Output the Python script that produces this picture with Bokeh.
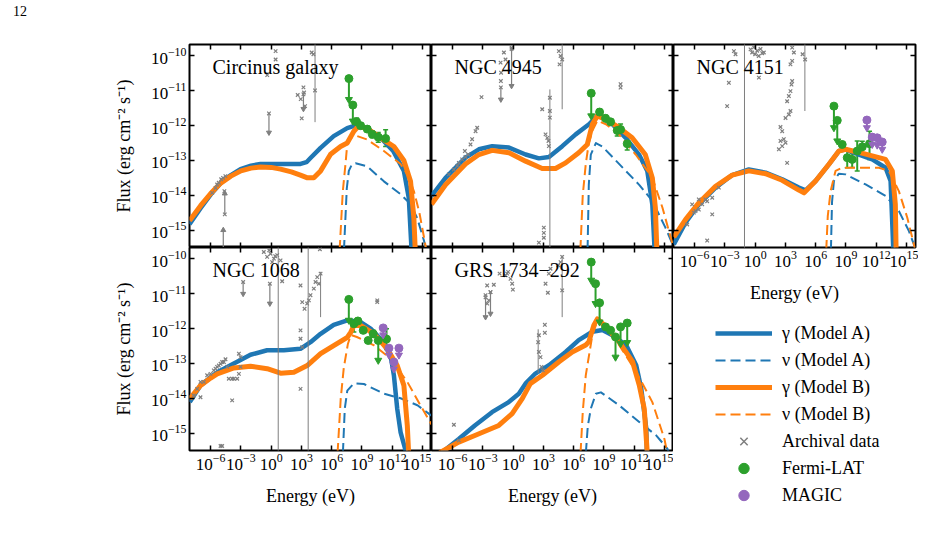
from bokeh.embed import file_html
from bokeh.layouts import column, row
from bokeh.models import (ColumnDataSource, CustomJSTickFormatter, Div, FixedTicker, Label, Legend,
                          LegendItem, LogAxis, LogTickFormatter, Range1d, TeeHead, Whisker)
from bokeh.plotting import figure
from bokeh.resources import INLINE

BLUE = "#1f77b4"
ORANGE = "#ff7f0e"
GREEN = "#2ca02c"
PURPLE = "#9467bd"
GREY = "#7f7f7f"
SERIF = "Liberation Serif"

# shared axis limits, in log10 units
LOG_E_LIM = (-8.1, 15.9)
LOG_F_LIM = (-15.5, -9.67)
E_TICKS = [1e-6, 1e-3, 1e0, 1e3, 1e6, 1e9, 1e12, 1e15]
F_TICKS = [1e-15, 1e-14, 1e-13, 1e-12, 1e-11, 1e-10]
FERMI_HALF_BIN = 0.22  # half width of a LAT energy bin, decades
FLUX_LABEL = "Flux (erg cm\u207b\u00b2 s\u207b\u00b9)"
ENERGY_LABEL = "Energy (eV)"

# All series are (log10 E [eV], log10 flux [erg cm^-2 s^-1]).
# Limits are (log10 E, log10 F, log10 F at arrow tip); bars are (log10 E, low, high).
# Detections are (log10 E, log10 F, low, high).

# ---------------- Circinus galaxy ----------------
circ_gamma_a = [(-8.1, -14.83), (-7.0, -14.37), (-6.0, -13.98), (-5.0, -13.65), (-4.0, -13.42),
                (-3.04, -13.25), (-2.0, -13.15), (-1.06, -13.1), (0.93, -13.1), (2.91, -13.1),
                (3.5, -13.05), (3.9, -12.93), (4.9, -12.64), (6.2, -12.3), (7.54, -12.07),
                (8.54, -11.98), (9.6, -12.1), (10.85, -12.35), (12.1, -12.73), (13.16, -13.3),
                (13.65, -14.08), (14.0, -16.0)]
circ_nu_a = [(7.15, -16.0), (7.5, -13.8), (7.7, -13.3), (8.0, -13.12), (8.37, -13.08), (9.53, -13.17),
             (11.18, -13.6), (12.83, -13.97), (13.82, -14.25), (14.48, -14.65), (15.15, -15.3),
             (15.4, -15.6)]
circ_gamma_b = [(-8.1, -14.73), (-7.0, -14.3), (-6.0, -13.95), (-5.0, -13.65), (-4.0, -13.45),
                (-3.0, -13.3), (-2.0, -13.22), (-1.06, -13.19), (0.0, -13.2), (0.93, -13.25),
                (2.0, -13.33), (2.9, -13.42), (3.6, -13.5), (4.23, -13.5), (4.9, -13.3),
                (5.89, -12.82), (6.88, -12.6), (7.54, -12.5), (8.2, -12.16), (8.7, -12.0),
                (9.6, -12.1), (10.85, -12.35), (12.17, -12.6), (13.16, -13.0), (13.82, -13.6),
                (14.15, -14.65), (14.35, -16.0)]
circ_nu_b = [(6.71, -16.0), (7.1, -13.9), (7.37, -13.1), (7.54, -12.55), (7.9, -12.35), (8.54, -12.3),
             (9.53, -12.4), (11.18, -12.73), (12.83, -13.1), (13.6, -13.45), (14.15, -13.88),
             (14.7, -14.5), (15.15, -15.2), (15.4, -15.6)]
circ_arch = [(-5.85, -13.93), (-5.52, -13.79), (-5.36, -13.69), (-5.2, -13.64), (-4.96, -13.54),
             (-4.77, -13.5), (-4.54, -13.45), (-4.64, -13.88), (-0.39, -10.55), (0.44, -9.86),
             (0.44, -10.1), (2.63, -11.12), (2.93, -11.24), (3.2, -10.9), (3.26, -11.05),
             (3.36, -11.44), (3.03, -11.79), (4.02, -9.9), (4.19, -9.95), (4.35, -10.99)]
circ_arch_lim = [(-4.6, -14.55, -13.95), (-4.75, -15.7, -15.0), (-0.22, -11.65, -12.2),
                 (3.2, -11.1, -11.52)]
circ_arch_bar = [(4.35, -11.9, -9.5)]
circ_fermi = [(8.47, -11.89, -12.0, -11.78), (8.87, -12.0, -12.08, -11.92), (9.53, -12.1, -12.18, -12.02),
              (10.03, -12.25, -12.35, -12.15), (10.62, -12.33, -12.48, -12.2),
              (11.35, -12.37, -12.6, -12.12)]
circ_fermi_ul = [(7.71, -10.65, -11.25), (8.1, -11.41, -11.87)]

# ---------------- NGC 4945 ----------------
n4945_gamma_a = [(-8.1, -14.02), (-6.71, -13.5), (-4.73, -12.92), (-3.4, -12.68), (-2.08, -12.59),
                 (-0.42, -12.63), (1.23, -12.83), (2.55, -12.94), (3.55, -12.9), (4.87, -12.59),
                 (6.2, -12.25), (7.52, -11.96), (8.4, -11.7), (9.84, -11.96), (11.16, -12.35),
                 (12.48, -12.83), (13.3, -13.3), (13.8, -14.26), (14.1, -16.0)]
n4945_nu_a = [(7.35, -16.0), (7.5, -13.7), (7.7, -12.83), (8.2, -12.5), (8.85, -12.6), (10.5, -13.1),
              (12.5, -13.7), (13.8, -14.16), (15.1, -14.93), (15.8, -15.4)]
n4945_gamma_b = [(-8.1, -14.26), (-6.71, -13.7), (-4.73, -13.1), (-3.4, -12.83), (-2.08, -12.71),
                 (-0.42, -12.78), (1.23, -13.02), (2.88, -13.23), (4.2, -13.23), (5.2, -13.07),
                 (6.5, -12.78), (7.35, -12.54), (7.85, -11.96), (8.35, -11.72), (9.2, -11.82),
                 (10.5, -12.06), (11.8, -12.35), (13.1, -12.83), (13.8, -13.5), (14.1, -14.35),
                 (14.3, -16.0)]
n4945_nu_b = [(6.6, -16.0), (6.9, -14.0), (7.2, -13.1), (7.5, -12.5), (7.85, -12.15), (8.35, -11.86),
              (9.2, -11.96), (10.5, -12.25), (12.15, -12.83), (13.8, -13.5), (14.8, -14.35),
              (15.8, -15.4)]
n4945_arch = [(-6.38, -13.4), (-5.88, -13.26), (-5.55, -13.16), (-5.39, -13.07), (-5.06, -12.97),
              (-4.79, -12.73), (-4.73, -12.9), (-4.46, -12.83), (-4.23, -12.54), (-4.07, -12.39),
              (-3.73, -12.16), (-3.57, -12.06), (-3.14, -11.18), (-1.25, -10.19), (-1.2, -10.48),
              (-1.22, -10.72), (-0.92, -9.9), (-0.76, -10.1), (-0.16, -9.76), (2.88, -11.53),
              (3.64, -11.2), (3.64, -11.58), (3.64, -11.77), (3.21, -12.25), (3.38, -12.35),
              (3.5, -12.44), (3.54, -12.59), (3.04, -14.93), (3.04, -15.08), (3.04, -15.22),
              (2.55, -15.36), (4.53, -9.86), (4.7, -10.0), (4.86, -10.1), (4.6, -10.24),
              (10.65, -10.81), (10.65, -10.91)]
n4945_arch_lim = [(-1.22, -10.9, -11.25), (-0.16, -9.8, -10.86)]
n4945_arch_bar = [(3.64, -16.0, -10.96), (4.86, -11.53, -9.6)]
n4945_fermi = [(8.57, -11.61, -11.7, -11.52), (9.16, -11.79, -11.88, -11.7), (9.66, -11.89, -11.98, -11.8),
               (10.32, -12.14, -12.3, -12.0), (10.65, -12.11, -12.25, -11.95),
               (11.31, -12.52, -12.7, -12.35)]
n4945_fermi_ul = [(7.74, -11.07, -11.72)]

# ---------------- NGC 4151 ----------------
n4151_gamma_a = [(-8.07, -15.41), (-6.91, -14.79), (-5.59, -14.26), (-3.93, -13.78), (-2.28, -13.42),
                 (-0.63, -13.26), (1.03, -13.35), (2.68, -13.54), (4.33, -13.78), (5.0, -13.86),
                 (5.99, -13.59), (7.31, -13.11), (8.3, -12.73), (8.96, -12.68), (10.29, -12.83),
                 (11.61, -12.97), (12.93, -13.21), (13.43, -13.59), (13.76, -16.0)]
n4151_nu_a = [(7.48, -16.0), (7.62, -14.2), (7.81, -13.59), (8.3, -13.38), (8.96, -13.4),
              (10.95, -13.69), (12.93, -14.02), (14.25, -14.45), (15.25, -15.03), (15.74, -15.41),
              (15.9, -15.6)]
n4151_gamma_b = [(-8.07, -15.2), (-6.91, -14.7), (-5.59, -14.22), (-3.93, -13.74), (-2.28, -13.42),
                 (-0.63, -13.3), (1.03, -13.38), (2.68, -13.57), (4.33, -13.85), (4.85, -13.93),
                 (5.99, -13.59), (7.31, -13.11), (8.3, -12.73), (8.96, -12.68), (10.29, -12.77),
                 (11.61, -12.87), (12.93, -12.97), (13.6, -13.3), (13.9, -14.26), (14.0, -16.0)]
n4151_nu_b = [(6.98, -16.0), (7.2, -14.6), (7.48, -13.88), (7.97, -13.3), (8.63, -13.21),
              (10.29, -13.21), (12.27, -13.21), (13.26, -13.3), (14.25, -13.88), (15.08, -14.64),
              (15.74, -15.41), (15.9, -15.6)]
n4151_arch = [(-6.74, -14.84), (-6.25, -14.26), (-6.08, -14.5), (-5.92, -14.45), (-5.59, -14.41),
              (-5.59, -14.12), (-5.25, -14.26), (-4.93, -14.12), (-4.76, -14.17), (-4.26, -14.07),
              (-3.6, -13.78), (-4.26, -14.55), (-4.76, -15.3), (-2.78, -11.44), (-2.61, -10.77),
              (-2.11, -9.86), (-1.95, -9.95), (-0.46, -9.81), (-0.3, -9.9), (-0.13, -9.75),
              (0.0, -9.95), (0.2, -9.85), (0.35, -10.0), (0.53, -9.8), (0.7, -9.92), (0.86, -9.9),
              (0.37, -10.62), (2.51, -12.04), (2.68, -12.16), (2.84, -12.39), (2.51, -12.44),
              (3.01, -12.49), (2.35, -12.68), (2.68, -12.59), (3.17, -13.07), (3.01, -11.78),
              (3.34, -11.68), (3.5, -11.58), (3.17, -11.3), (3.34, -11.15), (3.5, -11.01),
              (3.6, -10.82), (3.67, -10.72), (3.5, -10.24), (3.67, -10.14), (3.84, -9.9),
              (3.67, -9.76), (4.7, -9.95), (4.95, -10.1)]
n4151_arch_lim = []
n4151_arch_bar = [(-1.06, -16.0, -9.5), (4.93, -11.58, -9.5)]
n4151_fermi = [(8.63, -12.54, -12.6, -12.48), (9.13, -12.92, -13.21, -12.73), (9.62, -12.97, -13.2, -12.8),
               (10.12, -12.73, -13.3, -12.44), (10.62, -12.61, -12.85, -12.45),
               (11.34, -12.52, -12.97, -12.16)]
n4151_fermi_ul = [(7.81, -11.44, -12.06), (8.14, -11.85, -12.44)]
n4151_magic_ul = [(11.08, -11.84, -12.06), (11.61, -12.33, -12.54), (12.1, -12.35, -12.56),
                  (12.6, -12.47, -12.68)]

# ---------------- NGC 1068 ----------------
n1068_gamma_a = [(-8.07, -14.11), (-7.0, -13.63), (-6.0, -13.4), (-5.35, -13.25), (-3.7, -13.0),
                 (-2.05, -12.75), (-0.4, -12.62), (1.26, -12.62), (2.9, -12.58), (3.9, -12.39),
                 (4.9, -12.15), (6.2, -11.89), (7.55, -11.76), (8.87, -11.81), (9.86, -12.0),
                 (10.85, -12.29), (11.84, -12.77), (12.17, -13.34), (12.5, -14.3), (12.83, -14.97),
                 (13.33, -15.5), (13.5, -16.0)]
n1068_nu_a = [(7.05, -16.0), (7.3, -14.3), (7.55, -13.78), (8.2, -13.57), (9.2, -13.59),
              (11.2, -13.87), (12.83, -14.0), (14.5, -14.2), (15.9, -14.5)]
n1068_gamma_b = [(-8.07, -14.01), (-7.0, -13.63), (-6.0, -13.42), (-5.35, -13.3), (-3.7, -13.13),
                 (-2.05, -13.08), (-0.4, -13.15), (0.93, -13.28), (2.25, -13.25), (3.57, -13.06),
                 (4.9, -12.72), (6.2, -12.49), (7.55, -12.25), (7.9, -12.1), (8.2, -11.91),
                 (8.87, -11.91), (10.2, -12.15), (11.5, -12.58), (12.5, -13.06), (13.16, -13.63),
                 (13.5, -14.78), (13.7, -16.0)]
n1068_nu_b = [(6.5, -16.0), (6.9, -14.0), (7.2, -13.13), (7.6, -12.45), (7.9, -12.18), (8.5, -12.24),
              (10.2, -12.48), (11.84, -12.86), (13.5, -13.53), (14.8, -14.2), (15.9, -14.75)]
n1068_arch = [(-7.67, -13.92), (-7.34, -13.73), (-7.01, -13.53), (-7.01, -13.97), (-6.68, -13.53),
              (-6.35, -13.34), (-6.02, -13.3), (-5.69, -13.2), (-5.52, -13.15), (-5.36, -13.1),
              (-5.19, -13.06), (-5.02, -13.01), (-4.86, -12.96), (-4.69, -12.96), (-4.53, -12.88),
              (-4.36, -13.1), (-4.2, -13.44), (-3.87, -13.44), (-3.7, -13.44), (-3.37, -13.44),
              (-3.2, -13.3), (-3.04, -13.1), (-3.2, -12.72), (-3.04, -12.82), (-3.87, -14.06),
              (-5.02, -15.37), (-4.86, -15.37), (-0.73, -9.8), (-0.4, -9.94), (-0.06, -9.85),
              (0.27, -9.99), (0.6, -9.89), (0.93, -10.04), (0.1, -10.09), (-0.2, -9.75),
              (0.4, -9.92), (1.09, -10.64), (2.91, -10.76), (3.08, -11.24), (3.31, -11.43),
              (3.57, -11.28), (3.74, -11.19), (3.9, -11.04), (4.23, -10.85), (4.4, -10.66),
              (4.57, -10.52), (4.73, -10.71), (4.9, -10.42), (4.83, -9.72), (2.91, -12.29),
              (3.08, -12.53), (2.91, -12.05), (2.91, -13.73), (10.52, -11.24), (10.52, -11.19)]
n1068_arch_lim = [(-2.78, -10.66, -11.0), (-0.13, -10.71, -11.28)]
n1068_arch_bar = [(0.7, -16.0, -9.5), (3.67, -16.0, -9.5), (4.9, -11.67, -10.37)]
n1068_fermi = [(8.2, -11.86, -12.1, -11.75), (8.6, -11.78, -11.88, -11.7), (9.13, -12.05, -12.12, -11.98),
               (9.62, -12.34, -12.42, -12.26), (10.12, -12.15, -12.25, -12.05),
               (11.44, -12.3, -12.6, -12.0)]
n1068_fermi_ul = [(7.7, -11.16, -11.76), (10.62, -12.34, -12.91)]
n1068_magic_ul = [(11.11, -11.98, -12.18), (11.68, -12.56, -12.76), (12.17, -12.96, -13.16),
                  (12.67, -12.56, -12.76)]

# ---------------- GRS 1734-292 ----------------
grs_gamma_a = [(-8.1, -15.8), (-7.04, -15.55), (-5.4, -15.17), (-3.8, -14.78), (-2.1, -14.4),
               (-0.44, -14.11), (0.56, -13.87), (1.22, -13.58), (2.2, -13.29), (3.55, -13.05),
               (5.2, -12.67), (6.5, -12.33), (7.85, -12.09), (8.85, -12.04), (9.84, -12.19),
               (11.2, -12.47), (12.2, -13.05), (12.7, -13.72), (13.2, -14.87), (13.3, -16.0)]
grs_nu_a = [(7.1, -16.0), (7.4, -14.8), (7.7, -14.3), (8.2, -13.87), (8.7, -13.83), (10.5, -14.2),
            (12.5, -14.68), (14.2, -15.07), (15.3, -15.45), (15.5, -15.6)]
grs_gamma_b = [(-8.1, -15.85), (-7.2, -15.55), (-5.4, -15.26), (-3.8, -15.07), (-1.43, -14.78),
               (-0.1, -14.44), (0.9, -14.01), (1.7, -13.58), (2.9, -13.34), (4.55, -12.95),
               (5.86, -12.67), (7.2, -12.47), (7.5, -12.38), (8.0, -11.9), (8.35, -11.72),
               (9.2, -11.94), (10.5, -12.38), (11.84, -12.95), (12.5, -13.62), (13.0, -14.3),
               (13.4, -16.0)]
grs_nu_b = [(6.6, -16.0), (6.9, -14.4), (7.2, -13.34), (7.85, -12.19), (8.35, -11.78), (9.2, -11.99),
            (10.5, -12.47), (12.2, -13.24), (13.8, -14.11), (15.0, -15.17), (15.3, -15.6)]
grs_arch = [(-2.74, -11.04), (-2.58, -11.28), (-2.41, -11.19), (-2.58, -10.76), (-2.25, -10.95),
            (-1.92, -10.74), (-1.35, -10.42), (-0.76, -10.47), (-0.5, -10.37), (-0.26, -10.57),
            (-0.1, -10.71), (-0.03, -10.88), (-0.6, -10.42), (2.55, -12.19), (2.48, -12.39),
            (2.55, -12.67), (2.71, -12.82), (2.81, -13.1), (2.94, -13.2), (3.14, -11.89),
            (3.14, -12.12), (3.21, -10.71), (3.44, -10.97), (3.7, -10.28), (3.54, -10.42),
            (4.47, -10.18), (4.7, -10.09), (4.86, -9.94), (4.86, -10.9), (-5.88, -14.76),
            (-5.39, -15.21)]
grs_arch_lim = [(-2.74, -11.1, -11.67), (-2.25, -10.95, -11.57)]
grs_arch_bar = [(2.48, -13.29, -12.02), (4.86, -11.67, -9.9)]
grs_fermi = [(9.16, -11.95, -12.03, -11.87), (9.66, -12.05, -12.13, -11.97)]
grs_fermi_ul = [(7.74, -10.09, -10.61), (8.17, -10.71, -11.28), (8.57, -11.26, -11.81),
                (10.15, -12.24, -12.82), (10.65, -11.95, -12.43), (11.31, -11.84, -12.4)]


def sed(pairs):
    return [10.0 ** e for e, _ in pairs], [10.0 ** f for _, f in pairs]


def make_axis(ticks, show_labels, label=None, label_standoff=8):
    ax = LogAxis(ticker=FixedTicker(ticks=ticks),
                 major_tick_in=5, major_tick_out=0, major_tick_line_width=1.5,
                 major_tick_line_color="black", minor_tick_line_color=None,
                 axis_line_color=None)
    if show_labels:
        ax.formatter = LogTickFormatter()
        ax.major_label_text_font = SERIF
        ax.major_label_text_font_size = "17px"
        ax.major_label_text_color = "black"
        ax.major_label_standoff = 3
    else:
        # tick marks only
        ax.formatter = CustomJSTickFormatter(code="return ''")
        ax.major_label_text_font_size = "1px"
        ax.major_label_text_alpha = 0
        ax.major_label_standoff = 0
    if label:
        ax.axis_label = label
        ax.axis_label_text_font = SERIF
        ax.axis_label_text_font_size = "18px"
        ax.axis_label_text_font_style = "normal"
        ax.axis_label_text_color = "black"
        ax.axis_label_standoff = label_standoff
    return ax


def make_panel(width, height, borders, y_labels, x_labels, title):
    left, right, top, bottom = borders
    p = figure(width=width, height=height, x_axis_type="log", y_axis_type="log",
               x_axis_location=None, y_axis_location=None,
               x_range=Range1d(10 ** LOG_E_LIM[0], 10 ** LOG_E_LIM[1]),
               y_range=Range1d(10 ** LOG_F_LIM[0], 10 ** LOG_F_LIM[1]),
               toolbar_location=None, output_backend="svg", min_border=0,
               min_border_left=left, min_border_right=right,
               min_border_top=top, min_border_bottom=bottom)
    p.grid.visible = False
    p.outline_line_color = "black"
    p.outline_line_width = 2
    p.background_fill_color = "white"
    p.border_fill_color = "white"
    p.add_layout(make_axis(F_TICKS, y_labels, FLUX_LABEL if y_labels else None, 14), "left")
    p.add_layout(make_axis(F_TICKS, False), "right")
    p.add_layout(make_axis(E_TICKS, False), "above")
    p.add_layout(make_axis(E_TICKS, x_labels, ENERGY_LABEL if x_labels else None, 13), "below")
    p.add_layout(Label(x=23, y=181, x_units="screen", y_units="screen", text=title,
                       text_font=SERIF, text_font_size="20px", text_color="black",
                       text_baseline="alphabetic"))
    return p


def draw_models(p, gamma_a, nu_a, gamma_b, nu_b):
    for pairs, color, width, dash in ((gamma_a, BLUE, 4.5, "solid"), (nu_a, BLUE, 2, "10 5"),
                                      (gamma_b, ORANGE, 5, "solid"), (nu_b, ORANGE, 2, "10 5")):
        xs, ys = sed(pairs)
        p.line(xs, ys, line_color=color, line_width=width, line_dash=dash, line_join="round")


def draw_archival(p, points, limits, bars):
    if bars:
        p.segment(x0=[10 ** b[0] for b in bars], y0=[10 ** b[1] for b in bars],
                  x1=[10 ** b[0] for b in bars], y1=[10 ** b[2] for b in bars],
                  line_color=GREY, line_width=1)
    if limits:
        ex = [10 ** l[0] for l in limits]
        p.segment(x0=ex, y0=[10 ** l[1] for l in limits], x1=ex, y1=[10 ** l[2] for l in limits],
                  line_color=GREY, line_width=1.2)
        down = [l for l in limits if l[2] < l[1]]
        up = [l for l in limits if l[2] > l[1]]
        for group, marker in ((down, "inverted_triangle"), (up, "triangle")):
            if group:
                p.scatter([10 ** l[0] for l in group], [10 ** l[2] for l in group], marker=marker,
                          size=5, fill_color=GREY, line_color=GREY)
        p.scatter(ex, [10 ** l[1] for l in limits], marker="x", size=5, line_color=GREY,
                  line_width=1.2)
    xs, ys = sed(points)
    p.scatter(xs, ys, marker="x", size=5, line_color=GREY, line_width=1.2)


def draw_measured(p, detections, limits, color):
    if limits:
        ex = [10 ** l[0] for l in limits]
        p.segment(x0=ex, y0=[10 ** l[1] for l in limits], x1=ex, y1=[10 ** l[2] for l in limits],
                  line_color=color, line_width=2)
        p.scatter(ex, [10 ** l[2] for l in limits], marker="inverted_triangle", size=7,
                  fill_color=color, line_color=color)
        p.scatter(ex, [10 ** l[1] for l in limits], marker="circle", size=8,
                  fill_color=color, line_color=color)
    if detections:
        src = ColumnDataSource(dict(
            x=[10 ** d[0] for d in detections], y=[10 ** d[1] for d in detections],
            lo=[10 ** d[2] for d in detections], hi=[10 ** d[3] for d in detections],
            xlo=[10 ** (d[0] - FERMI_HALF_BIN) for d in detections],
            xhi=[10 ** (d[0] + FERMI_HALF_BIN) for d in detections]))
        for base, lower, upper, dim in (("x", "lo", "hi", "height"), ("y", "xlo", "xhi", "width")):
            p.add_layout(Whisker(source=src, base=base, lower=lower, upper=upper, dimension=dim,
                                 line_color=color, line_width=2,
                                 lower_head=TeeHead(size=5, line_color=color, line_width=1.5),
                                 upper_head=TeeHead(size=5, line_color=color, line_width=1.5)))
        p.scatter("x", "y", source=src, marker="circle", size=8, fill_color=color, line_color=color)


FRAME_W = 242
FRAME_H = 203
STRIP = 20     # page-number strip
TOP = 24       # space above the upper frames
LOWER = 82     # space below the lower frames
PAGE_H = 532

circ = make_panel(189 + FRAME_W, TOP + FRAME_H, (189, 0, TOP, 0), True, False, "Circinus galaxy")
n4945 = make_panel(FRAME_W, TOP + FRAME_H, (0, 0, TOP, 0), False, False, "NGC 4945")
n4151 = make_panel(FRAME_W + 3, TOP + FRAME_H + 70, (0, 3, TOP, 70), False, True, "NGC 4151")
n1068 = make_panel(189 + FRAME_W, FRAME_H + LOWER, (189, 0, 0, LOWER), True, True, "NGC 1068")
grs = make_panel(FRAME_W, FRAME_H + LOWER, (0, 0, 0, LOWER), False, True, "GRS 1734\u2212292")

draw_models(circ, circ_gamma_a, circ_nu_a, circ_gamma_b, circ_nu_b)
draw_archival(circ, circ_arch, circ_arch_lim, circ_arch_bar)
draw_measured(circ, circ_fermi, circ_fermi_ul, GREEN)

draw_models(n4945, n4945_gamma_a, n4945_nu_a, n4945_gamma_b, n4945_nu_b)
draw_archival(n4945, n4945_arch, n4945_arch_lim, n4945_arch_bar)
draw_measured(n4945, n4945_fermi, n4945_fermi_ul, GREEN)

draw_models(n4151, n4151_gamma_a, n4151_nu_a, n4151_gamma_b, n4151_nu_b)
draw_archival(n4151, n4151_arch, n4151_arch_lim, n4151_arch_bar)
draw_measured(n4151, n4151_fermi, n4151_fermi_ul, GREEN)
draw_measured(n4151, [], n4151_magic_ul, PURPLE)

draw_models(n1068, n1068_gamma_a, n1068_nu_a, n1068_gamma_b, n1068_nu_b)
draw_archival(n1068, n1068_arch, n1068_arch_lim, n1068_arch_bar)
draw_measured(n1068, n1068_fermi, n1068_fermi_ul, GREEN)
draw_measured(n1068, [], n1068_magic_ul, PURPLE)

draw_models(grs, grs_gamma_a, grs_nu_a, grs_gamma_b, grs_nu_b)
draw_archival(grs, grs_arch, grs_arch_lim, grs_arch_bar)
draw_measured(grs, grs_fermi, grs_fermi_ul, GREEN)

# Legend panel under NGC 4151.  Its own ranges sit below every flux value, so the
# key renderers (built from the NGC 4151 series) only show up as legend swatches.
KEY_H = PAGE_H - STRIP - (TOP + FRAME_H + 70)
key = figure(width=FRAME_W + 3, height=KEY_H, toolbar_location=None, output_backend="svg",
             x_axis_location=None, y_axis_location=None, min_border=0,
             x_range=Range1d(-2, -1), y_range=Range1d(-2, -1))
key.grid.visible = False
key.outline_line_color = None


def key_line(pairs, **style):
    xs, ys = sed(pairs)
    return key.line(xs, ys, **style)


def key_marks(rows, **style):
    return key.scatter([10 ** r[0] for r in rows], [10 ** r[1] for r in rows], **style)


k_ga = key_line(n4151_gamma_a, line_color=BLUE, line_width=4.5)
k_na = key_line(n4151_nu_a, line_color=BLUE, line_width=2, line_dash="10 5")
k_gb = key_line(n4151_gamma_b, line_color=ORANGE, line_width=5)
k_nb = key_line(n4151_nu_b, line_color=ORANGE, line_width=2, line_dash="10 5")
k_ar = key_marks(n4151_arch, marker="x", line_color=GREY, line_width=1.5)
k_fe = key_marks(n4151_fermi, marker="circle", fill_color=GREEN, line_color=GREEN)
k_ma = key_marks(n4151_magic_ul, marker="circle", fill_color=PURPLE, line_color=PURPLE)

legend = Legend(items=[
    LegendItem(label="\u03b3 (Model A)", renderers=[k_ga]),
    LegendItem(label="\u03bd (Model A)", renderers=[k_na]),
    LegendItem(label="\u03b3 (Model B)", renderers=[k_gb]),
    LegendItem(label="\u03bd (Model B)", renderers=[k_nb]),
    LegendItem(label="Archival data", renderers=[k_ar]),
    LegendItem(label="Fermi-LAT", renderers=[k_fe]),
    LegendItem(label="MAGIC", renderers=[k_ma]),
], location=(42, 24), glyph_width=57, glyph_height=26, spacing=1, padding=0, margin=0,
    label_standoff=10, label_text_font=SERIF, label_text_font_size="18px",
    label_text_color="black", border_line_color=None, background_fill_alpha=0)
key.add_layout(legend)

page_number = Div(text="<div style=\"margin: 5px 0 0 13px; line-height: 14px;\">12</div>",
                  width=189 + 3 * FRAME_W + 3, height=STRIP, margin=0,
                  styles={"font-family": "'Liberation Serif', serif", "font-size": "14px",
                          "color": "black"})

page = column(page_number,
              row(column(row(circ, n4945), row(n1068, grs)), column(n4151, key)))

open("out.html", "w").write(file_html(page, INLINE))
